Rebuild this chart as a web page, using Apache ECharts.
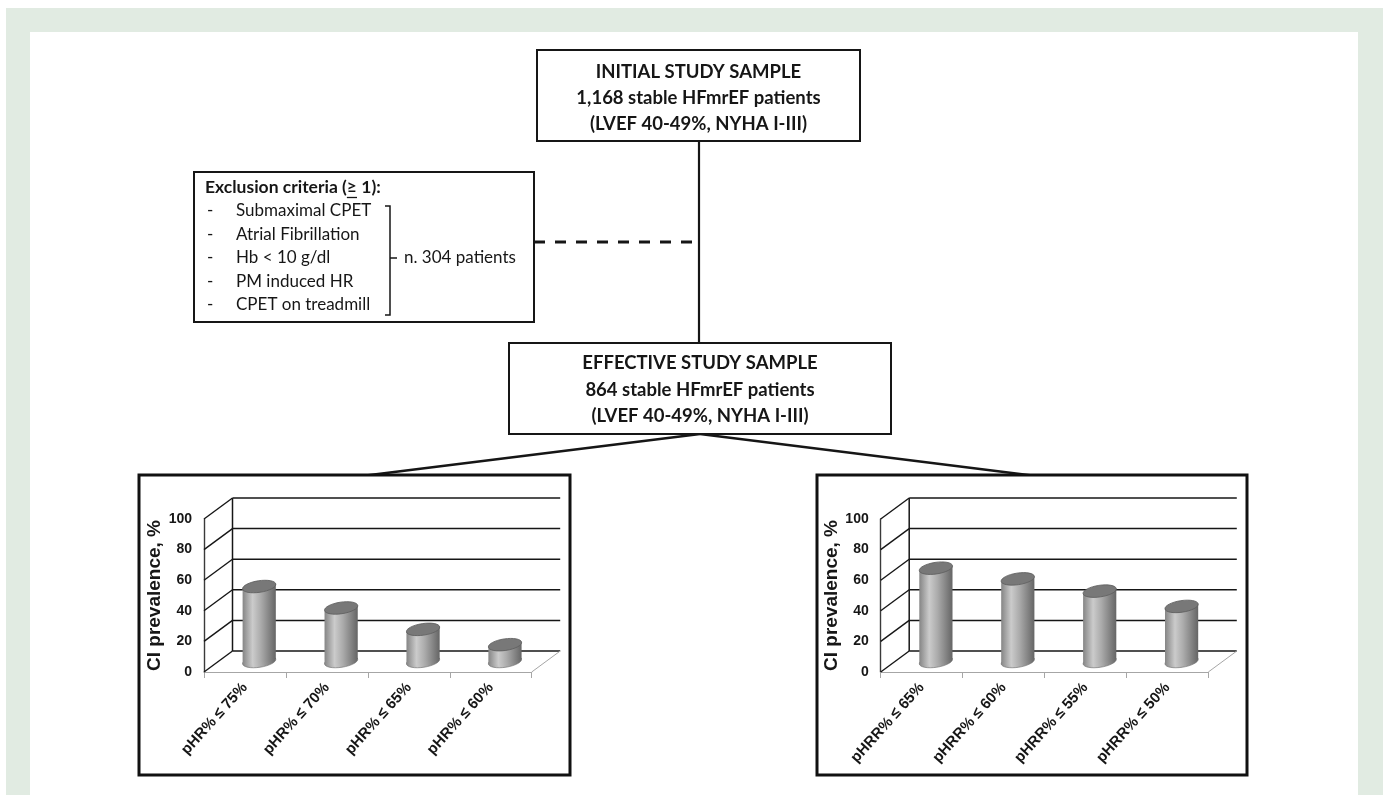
<!DOCTYPE html>
<html>
<head>
<meta charset="utf-8">
<title>Chronotropic incompetence in HFmrEF — study flow</title>
<script src="https://cdn.jsdelivr.net/npm/echarts@6/dist/echarts.min.js"></script>
<style>
  html, body { margin: 0; padding: 0; background: #ffffff; }
  #chart { width: 1386px; height: 795px; }
</style>
</head>
<body>
<div id="chart"></div>
<script>
// ---- data ----
const initialSample = ['INITIAL STUDY SAMPLE', '1,168 stable HFmrEF patients', '(LVEF 40-49%, NYHA I-III)'];
const effectiveSample = ['EFFECTIVE STUDY SAMPLE', '864 stable HFmrEF patients', '(LVEF 40-49%, NYHA I-III)'];
const exclusionTitleParts = ['Exclusion criteria (', '≥', ' 1):'];
const exclusionItems = ['Submaximal CPET', 'Atrial Fibrillation', 'Hb < 10 g/dl', 'PM induced HR', 'CPET on treadmill'];
const excludedCount = 'n. 304 patients';

const axisName = 'CI prevalence, %';
const prevalenceTicks = [0, 20, 40, 60, 80, 100];

const hrCategories = ['pHR% ≤ 75%', 'pHR% ≤ 70%', 'pHR% ≤ 65%', 'pHR% ≤ 60%'];
const hrValues = [49, 35, 21, 11];

const hrrCategories = ['pHRR% ≤ 65%', 'pHRR% ≤ 60%', 'pHRR% ≤ 55%', 'pHRR% ≤ 50%'];
const hrrValues = [61, 54, 46, 36];

// ---- drawing ----
const chart = echarts.init(document.getElementById('chart'));

const FLOW_FONT = 'Lato, "Open Sans", sans-serif';
const AXIS_FONT = '"Liberation Sans", Arial, sans-serif';
const INK = '#161616';
const BOX_FONT = 'bold 18.5px ' + FLOW_FONT;
const TITLE_FONT = 'bold 17.5px ' + FLOW_FONT;
const ITEM_FONT = '17px ' + FLOW_FONT;

// measure text so the underline sits under the "≥" sign
const measureCtx = document.createElement('canvas').getContext('2d');
function textWidth(text, font) { measureCtx.font = font; return measureCtx.measureText(text).width; }

// depth of the pseudo-3D plot box (back wall offset from the front plane)
const DX = 28.5, DY = -21;

function seg(x1, y1, x2, y2, stroke, lineWidth) {
  return { type: 'line', shape: { x1, y1, x2, y2 }, style: { stroke, lineWidth } };
}

// side wall, back wall gridlines and floor edges
function renderFrame(params, api) {
  const cs = params.coordSys;
  const v = api.value(1);
  const y = api.coord([0, v])[1];
  const xl = cs.x, xr = cs.x + cs.width;
  const children = [
    seg(xl, y, xl + DX, y + DY, INK, 1.4),
    seg(xl + DX, y + DY, xr + DX, y + DY, INK, 1.5)
  ];
  if (params.dataIndex === 0) {
    const yTop = api.coord([0, prevalenceTicks[prevalenceTicks.length - 1]])[1];
    children.push(seg(xl + DX, y + DY, xl + DX, yTop + DY, INK, 1.5));
    children.push(seg(xr, y, xr + DX, y + DY, '#a6a6a6', 1));
  }
  return { type: 'group', children };
}

// one shaded cylinder standing at mid-depth
function renderCylinder(params, api) {
  const i = api.value(0), v = api.value(1);
  const base = api.coord([i, 0]);
  const top = api.coord([i, v]);
  const w = api.size([1, 0])[0] * 0.41;
  const rx = w / 2, ry = 5.8, tilt = 0.15;
  const cx = base[0] + DX / 2;
  const by = base[1] + DY / 2, ty = top[1] + DY / 2;
  const ox = rx * Math.cos(tilt), oy = rx * Math.sin(tilt);
  const body = () => new echarts.graphic.LinearGradient(0, 0, 1, 0, [
    { offset: 0, color: '#858585' },
    { offset: 0.3, color: '#cbcbcb' },
    { offset: 0.55, color: '#ababab' },
    { offset: 1, color: '#656565' }
  ]);
  return {
    type: 'group',
    children: [
      { type: 'ellipse', x: cx, y: by, rotation: tilt,
        shape: { cx: 0, cy: 0, rx, ry }, style: { fill: body(), stroke: '#6f6f6f', lineWidth: 0.6 } },
      { type: 'polygon',
        shape: { points: [[cx - ox, ty + oy], [cx + ox, ty - oy], [cx + ox, by - oy], [cx - ox, by + oy]] },
        style: { fill: body() } },
      { type: 'ellipse', x: cx, y: ty, rotation: tilt,
        shape: { cx: 0, cy: 0, rx, ry }, style: { fill: '#787878', stroke: '#5e5e5e', lineWidth: 0.8 } }
    ]
  };
}

function panelAxes(gridIndex, categories) {
  const xAxis = {
    type: 'category', gridIndex, data: categories,
    axisLine: { lineStyle: { color: '#a6a6a6', width: 1 } },
    axisTick: { show: true, length: 6, lineStyle: { color: '#a6a6a6' } },
    axisLabel: { rotate: 48, margin: 13, color: INK, fontFamily: AXIS_FONT, fontWeight: 'bold', fontSize: 15, interval: 0 },
    splitLine: { show: false }
  };
  const yAxis = {
    type: 'value', gridIndex,
    min: prevalenceTicks[0], max: prevalenceTicks[prevalenceTicks.length - 1],
    interval: prevalenceTicks[1] - prevalenceTicks[0],
    name: axisName, nameLocation: 'middle', nameGap: 36,
    nameTextStyle: { color: INK, fontFamily: AXIS_FONT, fontWeight: 'bold', fontSize: 19 },
    axisLine: { show: true, lineStyle: { color: '#3a3a3a', width: 1.4 } },
    axisTick: { show: false },
    axisLabel: { margin: 12, color: INK, fontFamily: AXIS_FONT, fontWeight: 'bold', fontSize: 14 },
    splitLine: { show: false }
  };
  return { xAxis, yAxis };
}

const left = panelAxes(0, hrCategories);
const right = panelAxes(1, hrrCategories);

function flowText(x, y, text, opts) {
  return {
    type: 'text', x, y, silent: true,
    style: Object.assign({
      text, fill: INK,
      font: BOX_FONT,
      align: 'center', verticalAlign: 'middle',
      textAlign: 'center', textVerticalAlign: 'middle'
    }, opts || {})
  };
}
const leftText = (x, y, text, font) => flowText(x, y, text, { align: 'left', textAlign: 'left', font });

const titleX = 205;
const geX = titleX + textWidth(exclusionTitleParts[0], TITLE_FONT);
const geW = textWidth(exclusionTitleParts[1], TITLE_FONT);

const graphics = [
  // page frame
  { type: 'rect', shape: { x: 6, y: 8, width: 1377, height: 787 }, style: { fill: '#e1ebe2' }, silent: true, z: -10 },
  { type: 'rect', shape: { x: 30, y: 32, width: 1328, height: 763 }, style: { fill: '#ffffff' }, silent: true, z: -9 },

  // connectors
  { type: 'line', shape: { x1: 699, y1: 141, x2: 699, y2: 343 }, style: { stroke: INK, lineWidth: 2.2 }, z: -5 },
  { type: 'line', shape: { x1: 534, y1: 242, x2: 699, y2: 242 }, style: { stroke: INK, lineWidth: 3, lineDash: [11, 10] }, z: -5 },
  { type: 'line', shape: { x1: 700, y1: 434, x2: 362, y2: 476 }, style: { stroke: INK, lineWidth: 2.5 }, z: -5 },
  { type: 'line', shape: { x1: 700, y1: 434, x2: 1036, y2: 476 }, style: { stroke: INK, lineWidth: 2.5 }, z: -5 },

  // top box
  { type: 'rect', shape: { x: 537, y: 50, width: 323, height: 91 }, style: { fill: '#fff', stroke: INK, lineWidth: 2 }, z: -4 },
  flowText(698.5, 72, initialSample[0]),
  flowText(698.5, 98, initialSample[1]),
  flowText(698.5, 124, initialSample[2]),

  // exclusion box
  { type: 'rect', shape: { x: 194, y: 172, width: 340, height: 150 }, style: { fill: '#fff', stroke: INK, lineWidth: 2 }, z: -4 },
  leftText(titleX, 187, exclusionTitleParts.join(''), TITLE_FONT),
  { type: 'line', shape: { x1: geX, y1: 197.5, x2: geX + geW, y2: 197.5 }, style: { stroke: INK, lineWidth: 1.3 } },
  ...exclusionItems.flatMap((t, k) => [
    leftText(207, 211 + k * 23.5, '-', ITEM_FONT),
    leftText(236, 211 + k * 23.5, t, ITEM_FONT)
  ]),
  { type: 'polyline', shape: { points: [[385, 206], [390, 206], [390, 315], [385, 315]] }, style: { stroke: INK, lineWidth: 1.5, fill: null } },
  { type: 'line', shape: { x1: 390, y1: 258, x2: 397, y2: 258 }, style: { stroke: INK, lineWidth: 1.5 } },
  leftText(404, 258, excludedCount, ITEM_FONT),

  // effective sample box
  { type: 'rect', shape: { x: 509, y: 343, width: 382, height: 91 }, style: { fill: '#fff', stroke: INK, lineWidth: 2 }, z: -4 },
  flowText(700, 363, effectiveSample[0]),
  flowText(700, 390, effectiveSample[1]),
  flowText(700, 416, effectiveSample[2]),

  // chart panels
  { type: 'rect', shape: { x: 139, y: 475, width: 431, height: 300 }, style: { fill: '#fff', stroke: '#111', lineWidth: 3 }, z: -4 },
  { type: 'rect', shape: { x: 817, y: 475, width: 430, height: 300 }, style: { fill: '#fff', stroke: '#111', lineWidth: 3 }, z: -4 }
];

chart.setOption({
  animation: false,
  backgroundColor: '#ffffff',
  textStyle: { fontFamily: AXIS_FONT },
  graphic: { elements: graphics },
  grid: [
    { left: 204, top: 519, width: 327.7, height: 153, containLabel: false },
    { left: 880.7, top: 519, width: 327.6, height: 153, containLabel: false }
  ],
  xAxis: [left.xAxis, right.xAxis],
  yAxis: [left.yAxis, right.yAxis],
  series: [
    { type: 'custom', xAxisIndex: 0, yAxisIndex: 0, renderItem: renderFrame, silent: true, z: 1,
      data: prevalenceTicks.map(v => [0, v]) },
    { type: 'custom', xAxisIndex: 1, yAxisIndex: 1, renderItem: renderFrame, silent: true, z: 1,
      data: prevalenceTicks.map(v => [0, v]) },
    { type: 'custom', xAxisIndex: 0, yAxisIndex: 0, renderItem: renderCylinder, z: 3,
      data: hrValues.map((v, i) => [i, v]) },
    { type: 'custom', xAxisIndex: 1, yAxisIndex: 1, renderItem: renderCylinder, z: 3,
      data: hrrValues.map((v, i) => [i, v]) }
  ]
});
</script>
</body>
</html>
